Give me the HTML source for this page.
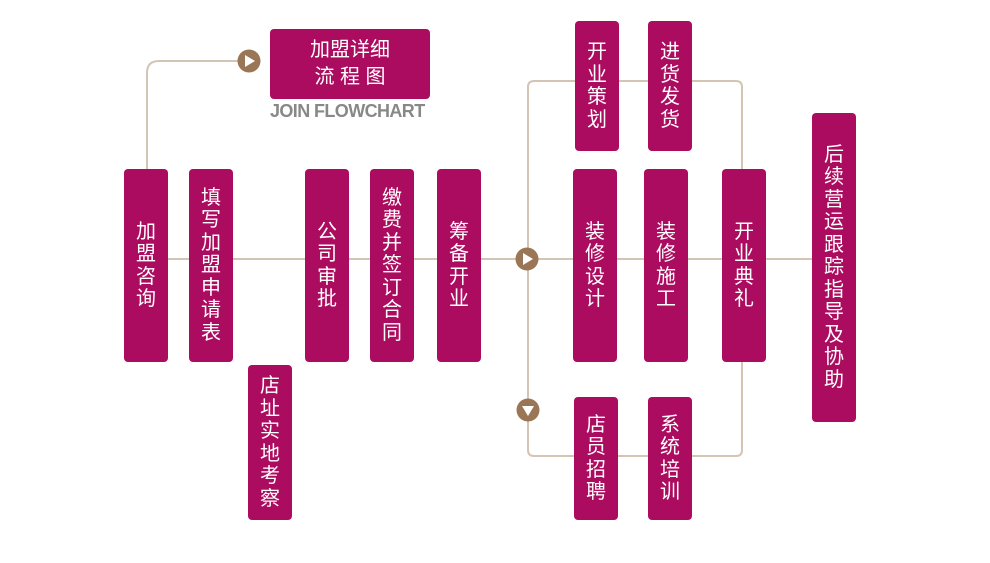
<!DOCTYPE html>
<html><head><meta charset="utf-8"><style>
*{margin:0;padding:0}
body{width:990px;height:563px;background:#fff;position:relative;overflow:hidden;font-family:"Liberation Sans","Noto Sans CJK SC",sans-serif}
.b{position:absolute;background:#ac0c5f;border-radius:4px;color:#fff;font-size:20px;line-height:22.5px;display:flex;align-items:center;justify-content:center;text-align:center}
.b span{display:block;width:21px;word-break:break-all}
svg{position:absolute;left:0;top:0}
</style></head><body>
<svg width="990" height="563">
<g fill="none" stroke="#d4c4b4" stroke-width="2">
<path d="M147 169 V73 Q147 61 159 61 H240"/>
<path d="M168 259 H189 M233 259 H305 M349 259 H370 M414 259 H437 M481 259 H573 M617 259 H644 M688 259 H722 M766 259 H812"/>
<path d="M575 81 H534 Q528 81 528 87 V450 Q528 456 534 456 H574"/>
<path d="M619 81 H648 M692 81 H736 Q742 81 742 87 V169"/>
<path d="M742 362 V450 Q742 456 736 456 H692 M648 456 H618"/>
</g>
<circle cx="249" cy="61" r="11.5" fill="#9b7656"/><path d="M245 55 L255 61 L245 67Z" fill="#fff"/>
<circle cx="527" cy="259" r="11.5" fill="#9b7656"/><path d="M523 253 L533 259 L523 265Z" fill="#fff"/>
<circle cx="528" cy="410" r="11.5" fill="#9b7656"/><path d="M522 406 L534 406 L528 416Z" fill="#fff"/>
</svg>
<div class="b" style="left:270px;top:29px;width:160px;height:70px;flex-direction:column;line-height:27px;font-size:20px"><div>加盟详细</div><div>流&nbsp;程&nbsp;图</div></div>
<div style="position:absolute;left:270px;top:99px;width:158px;font-size:18px;font-weight:bold;color:#888;letter-spacing:-0.6px;line-height:24px;font-family:'Liberation Sans',sans-serif">JOIN FLOWCHART</div>
<div class="b" style="left:124px;top:169px;width:44px;height:193px"><span>加盟咨询</span></div>
<div class="b" style="left:189px;top:169px;width:44px;height:193px"><span>填写加盟申请表</span></div>
<div class="b" style="left:305px;top:169px;width:44px;height:193px"><span>公司审批</span></div>
<div class="b" style="left:370px;top:169px;width:44px;height:193px"><span>缴费并签订合同</span></div>
<div class="b" style="left:437px;top:169px;width:44px;height:193px"><span>筹备开业</span></div>
<div class="b" style="left:248px;top:365px;width:44px;height:155px"><span>店址实地考察</span></div>
<div class="b" style="left:575px;top:21px;width:44px;height:130px"><span>开业策划</span></div>
<div class="b" style="left:648px;top:21px;width:44px;height:130px"><span>进货发货</span></div>
<div class="b" style="left:573px;top:169px;width:44px;height:193px"><span>装修设计</span></div>
<div class="b" style="left:644px;top:169px;width:44px;height:193px"><span>装修施工</span></div>
<div class="b" style="left:722px;top:169px;width:44px;height:193px"><span>开业典礼</span></div>
<div class="b" style="left:812px;top:113px;width:44px;height:309px"><span>后续营运跟踪指导及协助</span></div>
<div class="b" style="left:574px;top:397px;width:44px;height:123px"><span>店员招聘</span></div>
<div class="b" style="left:648px;top:397px;width:44px;height:123px"><span>系统培训</span></div>
</body></html>
